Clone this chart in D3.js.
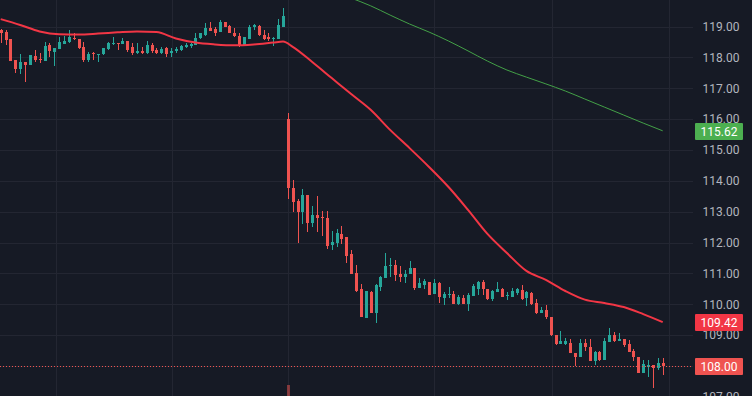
<!DOCTYPE html>
<html>
<head>
<meta charset="utf-8">
<script src="https://cdn.jsdelivr.net/npm/d3@7"></script>
<style>
	body { margin: 0; background: #161a25; overflow: hidden; }
	svg { display: block; }
	text { font-family: Roboto, "Noto Sans", sans-serif; }
</style>
</head>
<body>
<svg width="752" height="396"></svg>
<script>
// candles, left to right (one per bar)
const opens = [
	118.89, 118.83, 118.59, 117.92, 117.61, 117.85, 117.74, 118.04, 117.94, 117.89,
	118.40, 118.18, 118.27, 118.44, 118.50, 118.62, 118.59, 118.35, 117.92, 118.13,
	118.09, 118.10, 118.28, 118.43, 118.48, 118.44, 118.52, 118.35, 118.13, 118.21,
	118.13, 118.40, 118.24, 118.13, 118.29, 118.13, 118.20, 118.24, 118.35, 118.38,
	118.40, 118.62, 118.73, 118.95, 118.91, 118.83, 119.15, 119.02, 118.78, 118.69,
	118.40, 118.61, 118.97, 119.02, 118.73, 118.67, 118.59, 118.61, 118.99, 116.00,
	113.77, 113.35, 113.00, 113.54, 112.64, 112.89, 112.83, 112.80, 111.92, 111.99,
	112.28, 112.18, 111.63, 111.01, 110.49, 109.56, 110.41, 109.73, 110.57, 110.86,
	111.25, 111.27, 110.98, 110.88, 110.98, 111.18, 110.54, 110.62, 110.72, 110.34,
	110.69, 110.21, 110.31, 110.34, 110.02, 110.21, 110.01, 110.28, 110.49, 110.72,
	110.49, 110.16, 110.40, 110.49, 110.29, 110.25, 110.37, 110.46, 110.19, 110.37,
	110.04, 109.72, 109.81, 109.60, 109.00, 108.70, 108.70, 108.73, 108.43, 108.28,
	108.73, 108.61, 108.16, 108.46, 108.19, 108.79, 109.01, 108.81, 108.87, 108.70,
	108.50, 108.28, 107.78, 107.98, 108.03, 107.93, 108.09
];
const highs = [
	118.91, 118.89, 118.60, 117.92, 118.11, 117.85, 118.08, 118.24, 118.13, 118.51,
	118.46, 118.29, 118.65, 118.69, 118.89, 118.78, 118.59, 118.50, 118.18, 118.17,
	118.11, 118.29, 118.51, 118.65, 118.48, 118.62, 118.52, 118.46, 118.48, 118.35,
	118.54, 118.48, 118.29, 118.33, 118.33, 118.29, 118.35, 118.41, 118.48, 118.48,
	118.78, 118.80, 119.10, 119.15, 118.99, 119.21, 119.15, 119.04, 118.94, 118.80,
	118.65, 119.05, 119.07, 119.06, 118.89, 118.78, 118.65, 119.23, 119.60, 116.21,
	114.03, 113.41, 113.73, 113.54, 113.18, 113.51, 113.02, 113.02, 112.37, 112.44,
	112.54, 112.18, 111.76, 111.27, 110.66, 110.43, 110.43, 110.66, 110.92, 111.66,
	111.50, 111.43, 111.24, 111.11, 111.40, 111.18, 110.85, 110.82, 110.72, 110.82,
	110.72, 110.40, 110.56, 110.43, 110.30, 110.30, 110.35, 110.65, 110.75, 110.79,
	110.49, 110.46, 110.72, 110.52, 110.40, 110.52, 110.54, 110.62, 110.43, 110.40,
	110.17, 109.91, 109.98, 109.60, 109.00, 109.13, 108.90, 108.87, 108.43, 108.87,
	108.87, 108.87, 108.50, 108.50, 108.90, 109.22, 109.11, 109.06, 108.87, 108.84,
	108.54, 108.28, 108.19, 108.19, 108.03, 108.25, 108.25
];
const lows = [
	118.46, 118.40, 117.88, 117.48, 117.46, 117.21, 117.74, 117.86, 117.81, 117.89,
	118.02, 117.72, 118.27, 118.44, 118.48, 118.56, 118.26, 117.86, 117.86, 117.92,
	117.86, 118.08, 118.24, 118.40, 118.24, 118.44, 118.18, 118.08, 118.11, 118.11,
	118.11, 118.13, 118.11, 118.11, 118.02, 118.02, 118.15, 118.22, 118.29, 118.31,
	118.40, 118.59, 118.69, 118.85, 118.69, 118.83, 118.97, 118.78, 118.67, 118.33,
	118.40, 118.61, 118.89, 118.69, 118.56, 118.52, 118.37, 118.59, 118.99, 113.41,
	113.00, 111.99, 112.60, 112.35, 112.49, 112.35, 112.22, 111.80, 111.77, 111.87,
	111.95, 111.35, 110.99, 110.41, 109.60, 109.56, 109.72, 109.38, 110.44, 110.86,
	110.89, 110.76, 110.73, 110.70, 110.98, 110.47, 110.54, 110.50, 110.30, 110.34,
	110.05, 109.99, 110.21, 110.01, 109.99, 110.02, 109.78, 110.27, 110.30, 110.29,
	110.14, 110.12, 110.39, 110.23, 110.15, 110.25, 110.30, 110.14, 109.95, 109.97,
	109.69, 109.72, 109.53, 108.98, 108.68, 108.70, 108.68, 108.41, 108.00, 108.28,
	108.50, 108.16, 108.04, 108.16, 108.19, 108.79, 108.79, 108.81, 108.63, 108.46,
	108.17, 107.78, 107.78, 107.65, 107.30, 107.87, 107.71
];
const closes = [
	118.78, 118.56, 117.89, 117.61, 117.85, 117.74, 118.08, 117.92, 117.92, 118.37,
	118.22, 118.29, 118.51, 118.54, 118.67, 118.59, 118.31, 117.92, 118.11, 118.11,
	118.11, 118.29, 118.48, 118.46, 118.46, 118.52, 118.24, 118.13, 118.21, 118.13,
	118.40, 118.22, 118.15, 118.28, 118.11, 118.22, 118.28, 118.37, 118.40, 118.43,
	118.62, 118.78, 118.95, 118.86, 118.80, 119.16, 118.99, 118.78, 118.69, 118.40,
	118.65, 118.97, 119.04, 118.73, 118.61, 118.59, 118.63, 119.05, 119.34, 113.78,
	113.31, 113.00, 113.54, 112.64, 112.89, 112.81, 112.80, 111.89, 112.02, 112.31,
	112.11, 111.57, 110.99, 110.44, 109.60, 110.43, 109.73, 110.62, 110.87, 111.24,
	111.27, 110.95, 110.89, 110.98, 111.17, 110.54, 110.70, 110.75, 110.30, 110.69,
	110.25, 110.34, 110.33, 110.01, 110.24, 110.02, 110.30, 110.59, 110.72, 110.48,
	110.16, 110.43, 110.49, 110.25, 110.30, 110.43, 110.49, 110.17, 110.40, 110.00,
	109.72, 109.81, 109.60, 109.00, 108.70, 108.81, 108.81, 108.41, 108.28, 108.73,
	108.61, 108.16, 108.44, 108.19, 108.82, 109.01, 108.81, 108.87, 108.68, 108.46,
	108.30, 107.78, 108.05, 108.03, 107.93, 108.09, 108.00
];

// red moving average, read every 4 bars
const maFastIdx = [0, 4, 8, 12, 16, 20, 24, 28, 32, 36, 40, 44, 48, 52, 56, 58, 60, 64, 68, 72,
	76, 80, 84, 88, 92, 96, 100, 104, 108, 112, 116, 120, 124, 128, 132, 136];
const maFastVals = [119.24, 119.05, 118.84, 118.75, 118.74, 118.77, 118.81, 118.84, 118.82, 118.61,
	118.48, 118.42, 118.39, 118.42, 118.48, 118.51, 118.34, 117.85, 117.33, 116.81,
	116.30, 115.65, 115.06, 114.45, 113.80, 113.06, 112.28, 111.66, 111.08, 110.79,
	110.43, 110.15, 110.04, 109.91, 109.68, 109.42];

// green moving average (only visible from bar 72 on)
const maSlowIdx = [72, 76, 80, 84, 88, 92, 96, 100, 104, 108, 112, 116, 120, 124, 128, 132, 136];
const maSlowVals = [119.92, 119.67, 119.37, 119.08, 118.82, 118.53, 118.21, 117.88, 117.59, 117.36,
	117.14, 116.91, 116.65, 116.39, 116.13, 115.87, 115.62];

// price axis ticks and time grid (bar positions of the hidden time labels)
const priceTicks = [107, 108, 109, 110, 111, 112, 113, 114, 115, 116, 117, 118, 119, 120];
const timeGrid = [11.35, 35.2, 59, 89, 113.2, 137.2];

// only the volume bar of the gap candle reaches into view
const volIdx = [59];
const volRel = [1];

const lastPrice = 108.00;

function init() {
	const svg = d3.select('svg');
	const W = 752;
	const H = 396;
	const plotRight = 693;

	const upColor = '#26a69a';
	const downColor = '#ef5350';

	const x = d3.scaleLinear().domain([0, 136]).range([0.7, 662.7]);
	const y = d3.scaleLinear().domain([108, 119]).range([366, 26.5]);
	const yVol = d3.scaleLinear().domain([0, 1]).range([422, 385]);

	const px = v => Math.round(x(v));

	// grid
	const grid = svg.append('g').attr('shape-rendering', 'crispEdges');
	grid.selectAll('line.h')
		.data(priceTicks)
		.enter().append('line')
		.attr('class', 'h')
		.attr('x1', 0).attr('x2', plotRight)
		.attr('y1', d => Math.round(y(d)) + 0.5)
		.attr('y2', d => Math.round(y(d)) + 0.5)
		.attr('stroke', '#232632');
	grid.selectAll('line.v')
		.data(timeGrid)
		.enter().append('line')
		.attr('class', 'v')
		.attr('x1', d => Math.round(x(d)) + 0.5)
		.attr('x2', d => Math.round(x(d)) + 0.5)
		.attr('y1', 0).attr('y2', H)
		.attr('stroke', '#232632');

	// volume
	svg.append('g').selectAll('rect')
		.data(volIdx)
		.enter().append('rect')
		.attr('x', d => px(d) - 1)
		.attr('width', 3)
		.attr('y', (d, i) => yVol(volRel[i]))
		.attr('height', (d, i) => yVol(0) - yVol(volRel[i]))
		.attr('fill', downColor)
		.attr('fill-opacity', 0.5);

	// candles
	const bars = d3.range(opens.length);
	const candles = svg.append('g').attr('shape-rendering', 'crispEdges');
	candles.selectAll('rect.wick')
		.data(bars)
		.enter().append('rect')
		.attr('class', 'wick')
		.attr('x', d => px(d))
		.attr('width', 1)
		.attr('y', d => y(highs[d]))
		.attr('height', d => Math.max(1, y(lows[d]) - y(highs[d])))
		.attr('fill', d => closes[d] >= opens[d] ? upColor : downColor);
	candles.selectAll('rect.body')
		.data(bars)
		.enter().append('rect')
		.attr('class', 'body')
		.attr('x', d => px(d) - 1)
		.attr('width', 3)
		.attr('y', d => y(Math.max(opens[d], closes[d])))
		.attr('height', d => Math.max(1, Math.abs(y(opens[d]) - y(closes[d]))))
		.attr('fill', d => closes[d] >= opens[d] ? upColor : downColor);

	// moving averages
	const line = d3.line()
		.x(d => x(d[0]))
		.y(d => y(d[1]))
		.curve(d3.curveMonotoneX);

	svg.append('path')
		.datum(maSlowIdx.map((d, i) => [d, maSlowVals[i]]))
		.attr('d', line)
		.attr('fill', 'none')
		.attr('stroke', '#43a047')
		.attr('stroke-width', 1);

	svg.append('path')
		.datum(maFastIdx.map((d, i) => [d, maFastVals[i]]))
		.attr('d', line)
		.attr('fill', 'none')
		.attr('stroke', '#f23645')
		.attr('stroke-width', 2)
		.attr('stroke-linejoin', 'round');

	// last price dotted line
	svg.append('line')
		.attr('x1', 0).attr('x2', plotRight)
		.attr('y1', Math.round(y(lastPrice)) + 0.5)
		.attr('y2', Math.round(y(lastPrice)) + 0.5)
		.attr('stroke', downColor)
		.attr('stroke-dasharray', '1,2');

	// price axis
	const axis = svg.append('g');
	axis.append('rect')
		.attr('x', plotRight).attr('y', 0)
		.attr('width', W - plotRight).attr('height', H)
		.attr('fill', '#161a25');
	axis.selectAll('text')
		.data(priceTicks)
		.enter().append('text')
		.attr('x', 721)
		.attr('y', d => y(d))
		.attr('dy', '0.36em')
		.attr('text-anchor', 'middle')
		.attr('font-size', 12)
		.attr('fill', '#b2b5be')
		.text(d => d.toFixed(2));

	// value tags
	const tags = [
		{v: maSlowVals[maSlowVals.length - 1], c: '#4caf50'},
		{v: maFastVals[maFastVals.length - 1], c: '#f23645'},
		{v: lastPrice, c: '#ef5350'}
	];
	const tag = axis.selectAll('g.tag')
		.data(tags)
		.enter().append('g')
		.attr('class', 'tag')
		.attr('transform', d => 'translate(0,' + Math.round(y(d.v)) + ')');
	tag.append('rect')
		.attr('x', 695).attr('y', -8)
		.attr('width', 48).attr('height', 17)
		.attr('rx', 1)
		.attr('fill', d => d.c);
	tag.append('text')
		.attr('x', 719)
		.attr('y', 0)
		.attr('dy', '0.4em')
		.attr('text-anchor', 'middle')
		.attr('font-size', 12)
		.attr('fill', '#ffffff')
		.text(d => d.v.toFixed(2));
}

init();
</script>
</body>
</html>
